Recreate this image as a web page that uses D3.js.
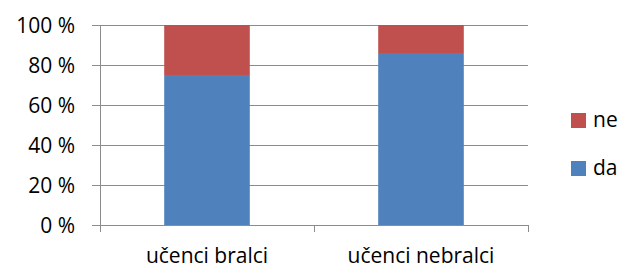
<!DOCTYPE html>
<html>
<head>
<meta charset="utf-8">
<script src="https://cdn.jsdelivr.net/npm/d3@7"></script>
<style>
  body { margin: 0; background: #fff; }
  text { font-family: "Open Sans", sans-serif; fill: #000; }
</style>
</head>
<body>
<svg id="canvas" width="622" height="269"></svg>
<script>
// chart values
let categories = ['učenci bralci', 'učenci nebralci']
let daValues = [75, 86]
let neValues = [25, 14]
let yTicks = [0, 20, 40, 60, 80, 100]
let seriesNames = ['ne', 'da']
let seriesColors = {da: '#4F81BD', ne: '#C0504D'}

let canvas = d3.select('#canvas')

function drawChart() {
    var left = 100, right = 528, top = 25, bottom = 225

    var x = d3.scaleBand()
        .domain(categories)
        .range([left, right])
        .paddingInner(0.6)
        .paddingOuter(0.3)

    var y = d3.scaleLinear()
        .domain([0, 100])
        .range([bottom, top])

    // gridlines
    canvas.selectAll('line.grid')
        .data(yTicks)
        .enter()
        .append('line')
        .attr('class', 'grid')
        .attr('x1', left - 8)
        .attr('x2', right)
        .attr('y1', d => y(d))
        .attr('y2', d => y(d))
        .attr('stroke', '#8c8c8c')
        .attr('stroke-width', 1)
        .attr('shape-rendering', 'crispEdges')

    // y tick labels
    canvas.selectAll('text.ylab')
        .data(yTicks)
        .enter()
        .append('text')
        .attr('class', 'ylab')
        .attr('x', 75)
        .attr('y', d => y(d) + 7.5)
        .attr('text-anchor', 'end')
        .style('font-size', '21px')
        .text(d => d + ' %')

    // stacked data
    var rows = categories.map((c, i) => ({cat: c, da: daValues[i], ne: neValues[i]}))
    var stack = d3.stack().keys(['da', 'ne'])(rows)

    canvas.selectAll('g.series')
        .data(stack)
        .enter()
        .append('g')
        .attr('class', 'series')
        .attr('fill', d => seriesColors[d.key])
        .selectAll('rect')
        .data(d => d)
        .enter()
        .append('rect')
        .attr('x', d => x(d.data.cat))
        .attr('width', x.bandwidth())
        .attr('y', d => y(d[1]))
        .attr('height', d => y(d[0]) - y(d[1]))

    // axes
    canvas.append('line')
        .attr('x1', left).attr('x2', left)
        .attr('y1', top).attr('y2', bottom)
        .attr('stroke', '#8c8c8c')
        .attr('shape-rendering', 'crispEdges')

    var xTicks = [left, (left + right) / 2, right]
    canvas.selectAll('line.xtick')
        .data(xTicks)
        .enter()
        .append('line')
        .attr('class', 'xtick')
        .attr('x1', d => d).attr('x2', d => d)
        .attr('y1', bottom).attr('y2', bottom + 7)
        .attr('stroke', '#8c8c8c')
        .attr('shape-rendering', 'crispEdges')

    canvas.selectAll('text.xlab')
        .data(categories)
        .enter()
        .append('text')
        .attr('class', 'xlab')
        .attr('x', d => x(d) + x.bandwidth() / 2)
        .attr('y', 263)
        .attr('text-anchor', 'middle')
        .style('font-size', '21px')
        .text(d => d)

    // legend
    var legend = canvas.selectAll('g.legend')
        .data(seriesNames)
        .enter()
        .append('g')
        .attr('class', 'legend')
        .attr('transform', (d, i) => 'translate(571,' + (113 + i * 48) + ')')

    legend.append('rect')
        .attr('width', 15)
        .attr('height', 15)
        .attr('fill', d => seriesColors[d])

    legend.append('text')
        .attr('x', 22)
        .attr('y', 14)
        .style('font-size', '21px')
        .text(d => d)
}

drawChart()
</script>
</body>
</html>
